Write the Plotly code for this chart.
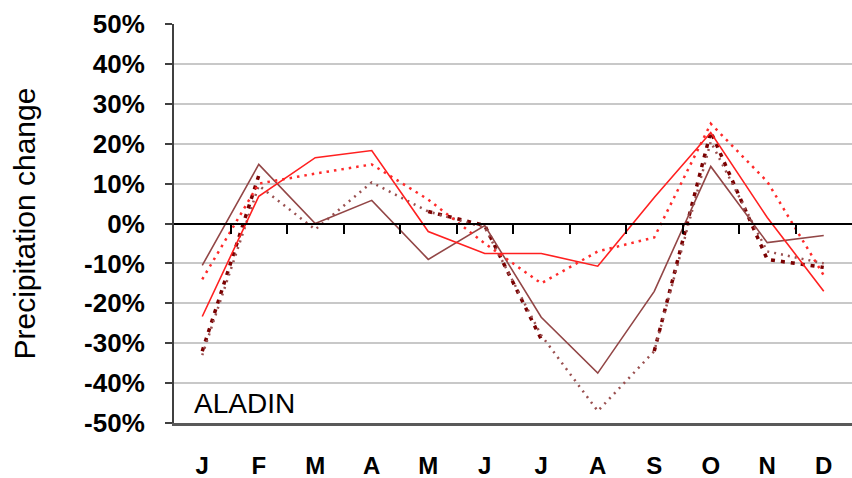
import plotly.graph_objects as go

months = ["J", "F", "M", "A", "M", "J", "J", "A", "S", "O", "N", "D"]
y_ticks = [-50, -40, -30, -20, -10, 0, 10, 20, 30, 40, 50]
y_tick_labels = ["-50%", "-40%", "-30%", "-20%", "-10%", "0%", "10%", "20%", "30%", "40%", "50%"]

# None = hidden under the other lines in the picture (not readable)
dark_red_sq = [-32, 12, None, None, 3, -0.5, -29, None, -32, 23, -9, -11]
brown_dot = [-33, 9.5, -1.5, 10.3, 3, -1, -28, -47, -32, 20.5, -7, -10]
brown_solid = [-10.5, 14.8, 0, 5.8, -9, -0.5, -23.5, -37.5, -17, 14.3, -4.8, -3]
red_dot = [-14, 10, 12.5, 14.8, 6, -5, -15, -7, -3.5, 25, 10.5, -13]
red_solid = [-23.3, 6.8, 16.5, 18.3, -2, -7.5, -7.5, -10.7, 6.5, 22.8, 1.5, -17]

idx = list(range(len(months)))
boundaries = [i + 0.5 for i in range(len(months) - 1)]

fig = go.Figure()
fig.add_trace(go.Scatter(x=idx, y=dark_red_sq, mode="lines", connectgaps=False,
                         line=dict(color="#7A0000", width=3.5, dash="4px,6px")))
fig.add_trace(go.Scatter(x=idx, y=brown_dot, mode="lines",
                         line=dict(color="#9A5050", width=2.5, dash="2px,5px")))
fig.add_trace(go.Scatter(x=idx, y=brown_solid, mode="lines",
                         line=dict(color="#924646", width=1.6)))
fig.add_trace(go.Scatter(x=idx, y=red_dot, mode="lines",
                         line=dict(color="#FF2A2A", width=2.5, dash="2.5px,5px")))
fig.add_trace(go.Scatter(x=idx, y=red_solid, mode="lines", xaxis="x2",
                         line=dict(color="#FF2020", width=1.6)))

font_family = "Liberation Sans, Arial, sans-serif"

fig.update_layout(
    width=852, height=478,
    margin=dict(l=174, r=0, t=24, b=55),
    paper_bgcolor="white", plot_bgcolor="white",
    showlegend=False,
    font=dict(family=font_family, color="black"),
    xaxis=dict(
        range=[-0.5, 11.5], tickmode="array", tickvals=idx, ticktext=months,
        showgrid=False, zeroline=False, showline=True, linecolor="#595959", linewidth=3,
        ticks="", tickfont=dict(size=24, family=font_family, weight="bold"),
        ticklabelstandoff=19, automargin=False,
    ),
    xaxis2=dict(
        overlaying="x", anchor="free", position=0.5,
        range=[-0.5, 11.5], tickmode="array", tickvals=boundaries,
        showticklabels=False, ticks="outside", ticklen=10, tickwidth=2, tickcolor="black",
        showline=True, linecolor="black", linewidth=1.5, showgrid=False, zeroline=False,
        automargin=False,
    ),
    yaxis=dict(
        range=[-50, 50], tickmode="array", tickvals=y_ticks, ticktext=y_tick_labels,
        showgrid=True, gridcolor="#C8C8C8", gridwidth=1.5, zeroline=False,
        showline=True, linecolor="#404040", linewidth=2,
        ticks="outside", ticklen=7, tickwidth=1.5, tickcolor="#404040",
        tickfont=dict(size=26, family=font_family, weight="bold"),
        ticklabelstandoff=15, automargin=False,
    ),
    annotations=[
        dict(text="Precipitation change", textangle=-90, xref="paper", yref="paper",
             x=-0.2198, y=0.5, xanchor="center", yanchor="middle", showarrow=False,
             font=dict(size=30, family=font_family, color="black")),
        dict(text="ALADIN", xref="paper", yref="paper", x=0.026, y=0.05,
             xanchor="left", yanchor="middle", showarrow=False,
             font=dict(size=28, family=font_family, color="black")),
    ],
)

fig.write_html("out.html")
